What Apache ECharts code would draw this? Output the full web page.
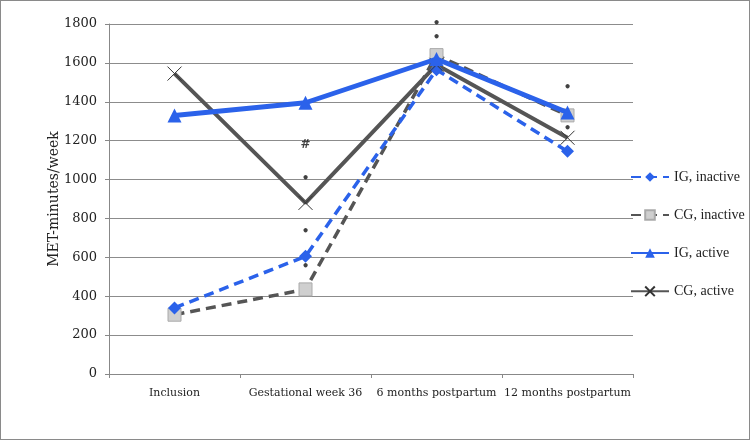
<!DOCTYPE html>
<html><head><meta charset="utf-8">
<script src="https://cdn.jsdelivr.net/npm/echarts@6/dist/echarts.min.js"></script>
<style>html,body{margin:0;padding:0;background:#fff}#c{width:748px;height:438px;border:1px solid #8a8a8a}</style>
</head><body><div id="c"></div>
<script>
var categories = ['Inclusion', 'Gestational week 36', '6 months postpartum', '12 months postpartum'];
var igInactive = [340, 605, 1565, 1145];
var cgInactive = [305, 435, 1640, 1330];
var igActive = [1330, 1395, 1620, 1345];
var cgActive = [1545, 880, 1590, 1215];
var yTicks = [0, 200, 400, 600, 800, 1000, 1200, 1400, 1600, 1800];
// annotation marks: [category, value, text]
var notes = [
  ['Gestational week 36', 1180, '#'],
  ['Gestational week 36', 1005, '•'],
  ['Gestational week 36', 730, '•'],
  ['Gestational week 36', 550, '•'],
  ['6 months postpartum', 1800, '•'],
  ['6 months postpartum', 1730, '•'],
  ['12 months postpartum', 1470, '•'],
  ['12 months postpartum', 1260, '•']
];
var serif = 'DejaVu Serif';
var blue = '#2b62ea', gray = '#555555';
var chart = echarts.init(document.getElementById('c'));
chart.setOption({
  animation: false,
  textStyle: {fontFamily: serif},
  grid: {left: 108, right: 116, top: 23, bottom: 65},
  legend: {
    orient: 'vertical', left: 624, top: 164, itemGap: 24, itemWidth: 38, itemHeight: 12,
    textStyle: {fontFamily: 'Liberation Serif', fontSize: 14, color: '#222'},
    data: ['IG, inactive', 'CG, inactive', 'IG, active', 'CG, active']
  },
  xAxis: {
    type: 'category', data: categories, boundaryGap: true,
    axisLine: {lineStyle: {color: '#888'}},
    axisTick: {show: true, length: 4, interval: 0, lineStyle: {color: '#888'}},
    axisLabel: {interval: 0, fontFamily: serif, fontSize: 11, color: '#222', margin: 14}
  },
  yAxis: {
    type: 'value', min: 0, max: 1800, interval: 200,
    name: 'MET-minutes/week', nameLocation: 'middle', nameGap: 48, nameMoveOverlap: false,
    nameTextStyle: {fontFamily: serif, fontSize: 14, color: '#222'},
    axisLine: {show: true, lineStyle: {color: '#888'}},
    axisTick: {show: true, length: 4, lineStyle: {color: '#888'}},
    axisLabel: {fontFamily: serif, fontSize: 13, color: '#222', margin: 12,
      formatter: function (v) { return yTicks.indexOf(v) >= 0 ? String(v) : ''; }},
    splitLine: {lineStyle: {color: '#8c8c8c', width: 1}}
  },
  series: [
    {name: 'IG, inactive', type: 'line', data: igInactive, symbol: 'diamond', symbolSize: 13,
      lineStyle: {color: blue, width: 3.5, type: [10, 6]}, itemStyle: {color: blue}, z: 3},
    {name: 'CG, inactive', type: 'line', data: cgInactive, symbol: 'rect', symbolSize: 13,
      lineStyle: {color: gray, width: 3.5, type: [10, 6]}, itemStyle: {color: '#cfcfcf', borderColor: '#aaa', borderWidth: 1}, z: 2},
    {name: 'IG, active', type: 'line', data: igActive, symbol: 'triangle', symbolSize: 14,
      lineStyle: {color: blue, width: 5}, itemStyle: {color: blue}, z: 4},
    {name: 'CG, active', type: 'line', data: cgActive,
      symbol: 'path://M0,0L1,1M1,0L0,1', symbolSize: 14,
      lineStyle: {color: gray, width: 4}, itemStyle: {color: 'none', borderColor: '#333', borderWidth: 1}, z: 3},
    {name: 'notes', type: 'scatter', symbol: 'circle', symbolSize: 2, silent: true,
      itemStyle: {color: 'rgba(0,0,0,0)'},
      data: notes.map(function (n) { return {value: [n[0], n[1]], label: {formatter: n[2]}}; }),
      label: {show: true, position: 'inside', fontSize: 12, fontWeight: 'bold', color: '#111', fontFamily: 'DejaVu Sans'}, z: 10}
  ]
});
</script></body></html>
